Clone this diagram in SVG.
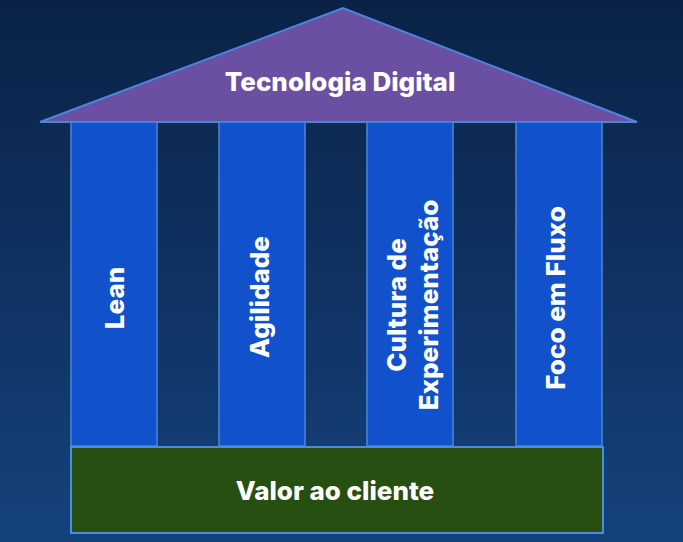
<svg xmlns="http://www.w3.org/2000/svg" width="683" height="542" viewBox="0 0 683 542">
<defs>
<linearGradient id="bg" x1="0" y1="0" x2="0" y2="1"><stop offset="0" stop-color="#0a2246"/><stop offset="1" stop-color="#15427c"/></linearGradient>
<style>
.col{fill:#1152cc;stroke:#4a86dc;stroke-width:1.5}
.t{font-family:Inter,"Liberation Sans",sans-serif;font-weight:800;font-size:26px;fill:#fff;text-anchor:middle;dominant-baseline:central}
</style>
</defs>
<rect width="683" height="542" fill="url(#bg)"/>
<g id="roof"><polygon points="40,122 343,8 637,122" fill="#6a4fa3" stroke="#4a86dc" stroke-width="2"/><text class="t" x="340" y="81">Tecnologia Digital</text></g>
<g id="lean"><rect class="col" x="71" y="122" width="86" height="324"/><text class="t" transform="translate(114,298) rotate(-90)">Lean</text></g>
<g id="agilidade"><rect class="col" x="219" y="122" width="86" height="324"/><text class="t" transform="translate(259,297) rotate(-90)">Agilidade</text></g>
<g id="cultura"><rect class="col" x="367" y="122" width="86" height="324"/><text class="t" transform="translate(396,305) rotate(-90)">Cultura de</text><text class="t" transform="translate(428,305) rotate(-90)">Experimentação</text></g>
<g id="foco"><rect class="col" x="516" y="122" width="86" height="324"/><text class="t" transform="translate(555,298) rotate(-90)">Foco em Fluxo</text></g>
<g id="base"><rect x="71" y="447" width="532" height="86" fill="#284f12" stroke="#4a8fdc" stroke-width="2"/><text class="t" x="335" y="490">Valor ao cliente</text></g>
<g id="connectors"/>
</svg>
